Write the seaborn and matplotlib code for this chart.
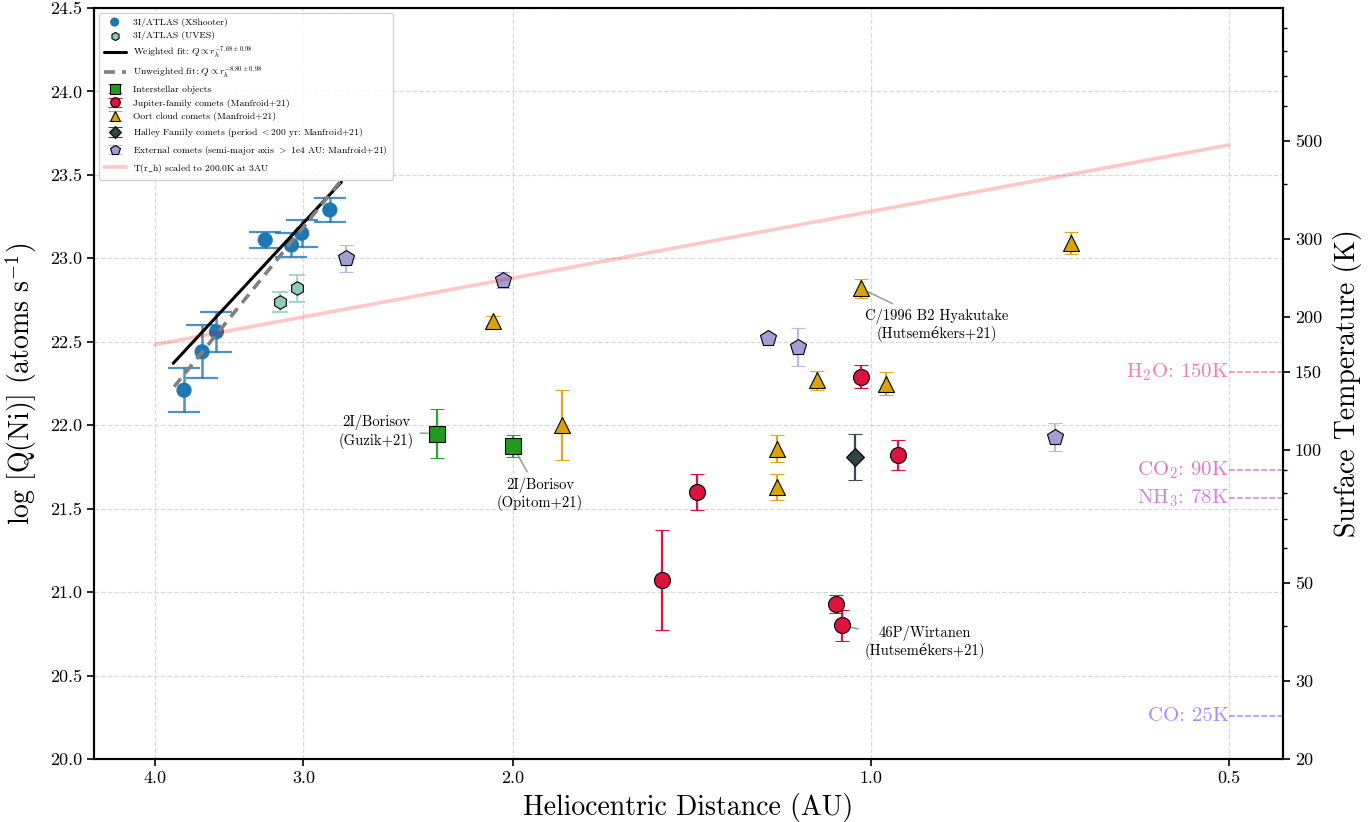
import numpy as np
import pandas as pd
import matplotlib
matplotlib.use("Agg")
import matplotlib.pyplot as plt
import seaborn as sns
from matplotlib.ticker import FixedLocator, FixedFormatter, NullFormatter, NullLocator, LogLocator
from matplotlib.lines import Line2D

# ---------------- data ----------------
# 3I/ATLAS X-Shooter
xs_r = [3.78, 3.65, 3.55, 3.23, 3.07, 3.01, 2.85]
xs_q = [22.21, 22.44, 22.56, 23.11, 23.08, 23.15, 23.29]
xs_err = [0.13, 0.16, 0.12, 0.05, 0.07, 0.08, 0.07]
# 3I/ATLAS UVES
uv_r = [3.14, 3.04]
uv_q = [22.74, 22.82]
uv_err = [0.06, 0.08]
# power-law fits (exponent, intercept of log Q at r=1 AU, r-range)
fit_w_exp, fit_w_c = -7.68, 26.876
fit_u_exp, fit_u_c = -8.80, 27.386
fit_w_range = [3.86, 2.787]
fit_u_range = [3.853, 2.796]
# Interstellar objects (2I/Borisov)
is_r = [2.318, 2.00]
is_q = [21.95, 21.876]
is_err = [0.145, 0.067]
# Jupiter-family comets
jf_r = [1.498, 1.399, 1.069, 1.058, 1.018, 0.949]
jf_q = [21.07, 21.60, 20.93, 20.80, 22.29, 21.82]
jf_err = [0.30, 0.11, 0.055, 0.09, 0.068, 0.09]
# Oort cloud comets
oc_r = [2.079, 1.818, 1.20, 1.20, 1.109, 1.019, 0.970, 0.679]
oc_q = [22.625, 22.00, 21.86, 21.63, 22.27, 22.82, 22.25, 23.09]
oc_err = [0.03, 0.21, 0.08, 0.08, 0.057, 0.058, 0.067, 0.065]
# Halley family comets
hf_r = [1.03]
hf_q = [21.81]
hf_err = [0.14]
# External comets
ex_r = [2.76, 2.04, 1.221, 1.150, 0.700]
ex_q = [23.00, 22.87, 22.52, 22.47, 21.93]
ex_err = [0.08, 0.05, 0.02, 0.115, 0.085]
# Surface temperature model
T_ref, r_ref = 200.0, 3.0
T_r = [4.0, 0.5]
# ice sublimation temperatures
ice_names = ["H$_2$O: 150K", "CO$_2$: 90K", "NH$_3$: 78K", "CO: 25K"]
ice_T = [150, 90, 78, 25]
ice_colors = ["#f282ad", "#e07ac6", "#d580e0", "#a98cff"]
# annotations
ann_text = ["C/1996 B2 Hyakutake\n(Hutsemékers+21)", "46P/Wirtanen\n(Hutsemékers+21)",
            "2I/Borisov\n(Guzik+21)", "2I/Borisov\n(Opitom+21)"]
ann_xy = [(1.019, 22.82), (1.058, 20.80), (2.318, 21.95), (2.00, 21.876)]
ann_txt = [(0.880, 22.60), (0.901, 20.70), (2.603, 21.96), (1.898, 21.585)]

x_ticks = [4.0, 3.0, 2.0, 1.0, 0.5]
x_ticklabels = ["4.0", "3.0", "2.0", "1.0", "0.5"]
T_ticks = [20, 30, 50, 100, 150, 200, 300, 500]

lab_xs = "3I/ATLAS (XShooter)"
lab_uv = "3I/ATLAS (UVES)"
lab_fw = r"Weighted fit: $Q \propto r_h^{-7.68\pm0.98}$"
lab_fu = r"Unweighted fit: $Q \propto r_h^{-8.80\pm0.98}$"
lab_is = "Interstellar objects"
lab_jf = "Jupiter-family comets (Manfroid+21)"
lab_oc = "Oort cloud comets (Manfroid+21)"
lab_hf = r"Halley Family comets (period $<$200 yr: Manfroid+21)"
lab_ex = r"External comets (semi-major axis $>$ 1e4 AU: Manfroid+21)"
lab_T = r"T(r$\_$h) scaled to 200.0K at 3AU"

# ---------------- style ----------------
sns.set_style("ticks")
plt.rcParams["font.family"] = ["cmr10", "DejaVu Serif"]
plt.rcParams["mathtext.fontset"] = "cm"
plt.rcParams["axes.formatter.use_mathtext"] = True
plt.rcParams["axes.unicode_minus"] = False
for k in ["text.color", "axes.labelcolor", "xtick.color", "ytick.color", "axes.edgecolor"]:
    plt.rcParams[k] = "black"

fig = plt.figure(figsize=(13.7, 8.22), dpi=100)
ax = fig.add_axes([94 / 1370, 1 - 759 / 822, (1283 - 94) / 1370, (759 - 8) / 822])
ax.set_xscale("log")
ax.set_xlim(4.5, 0.45)
ax.set_ylim(20.0, 24.5)

blue = "#1f77b4"
# X-Shooter
ax.errorbar(xs_r, xs_q, yerr=xs_err, fmt="none", ecolor=blue, alpha=0.8,
            elinewidth=1.8, capsize=11.5, capthick=1.6, zorder=2)
sns.scatterplot(x=xs_r, y=xs_q, ax=ax, color=blue, s=120, edgecolor="none",
                label=lab_xs, zorder=3)
# UVES
uv_col = "#8ecab8"
ax.errorbar(uv_r, uv_q, yerr=uv_err, fmt="none", ecolor="#a6d6c6",
            elinewidth=1.5, capsize=6, capthick=1.4, zorder=2)
sns.scatterplot(x=uv_r, y=uv_q, ax=ax, color=uv_col, marker="h", s=95,
                edgecolor="black", linewidth=0.8, label=lab_uv, zorder=3)

# fits
fw_r = np.array(fit_w_range)
fu_r = np.array(fit_u_range)
sns.lineplot(x=fw_r, y=fit_w_c + fit_w_exp * np.log10(fw_r), ax=ax, color="black", lw=2.2,
             label=lab_fw, zorder=4)
sns.lineplot(x=fu_r, y=fit_u_c + fit_u_exp * np.log10(fu_r), ax=ax, color="gray", lw=2.6,
             linestyle=(0, (3, 2)), label=lab_fu, zorder=4)


def ebar(r, q, e, marker, color, ecolor, label, ms=11.5):
    return ax.errorbar(r, q, yerr=e, fmt=marker, color=color, ms=ms, mec="black", mew=0.8,
                       ecolor=ecolor, elinewidth=1.6, capsize=5, capthick=1.4, label=label, zorder=3)


ebar(is_r, is_q, is_err, "s", "#1f9a1f", "#2aa82a", lab_is, ms=11.5)
ebar(jf_r, jf_q, jf_err, "o", "#dc143c", "#dc143c", lab_jf, ms=11.5)
ebar(oc_r, oc_q, oc_err, "^", "#daa30a", "#e0aa20", lab_oc, ms=12)
ebar(hf_r, hf_q, hf_err, "D", "#2f4444", "#3a4a4a", lab_hf, ms=9.5)
ebar(ex_r, ex_q, ex_err, "p", "#a0a0d6", "#b8b8e6", lab_ex, ms=12)

for t, xy, xyt in zip(ann_text, ann_xy, ann_txt):
    ax.annotate(t, xy=xy, xytext=xyt, ha="center", va="center", fontsize=10.5, color="black",
                arrowprops=dict(arrowstyle="-", color="#999999", lw=1.1, shrinkA=2, shrinkB=6))

ax.xaxis.set_major_locator(FixedLocator(x_ticks))
ax.xaxis.set_major_formatter(FixedFormatter(x_ticklabels))
ax.xaxis.set_minor_locator(NullLocator())
ax.set_yticks(np.arange(20.0, 24.51, 0.5))
ax.set_yticklabels([f"{v:.1f}" for v in np.arange(20.0, 24.51, 0.5)])
ax.grid(True, which="major", linestyle="--", color="#d9d9d9", lw=0.9)
ax.tick_params(axis="both", which="major", direction="out", length=5, width=1.2, labelsize=13)
for sp in ax.spines.values():
    sp.set_linewidth(1.5)
    sp.set_color("black")
ax.set_xlabel("Heliocentric Distance (AU)", fontsize=20, labelpad=5)
ax.set_ylabel(r"log [Q(Ni)] (atoms s$^{-1}$)", fontsize=20, labelpad=8)

# twin temperature axis
ax2 = ax.twinx()
ax2.set_yscale("log")
ax2.set_ylim(20, 1000)
Tr = np.array(T_r)
sns.lineplot(x=Tr, y=T_ref * (Tr / r_ref) ** -0.5, ax=ax2, color="red", alpha=0.22, lw=2.6,
             legend=False)
for name, T, c in zip(ice_names, ice_T, ice_colors):
    ax2.plot([0.5, 0.45], [T, T], linestyle="--", color=c, lw=1.1)
    ax2.text(0.5, T, name, ha="right", va="center", color=c, fontsize=15)
ax2.set_xlim(4.5, 0.45)
ax2.yaxis.set_major_locator(FixedLocator(T_ticks))
ax2.yaxis.set_major_formatter(FixedFormatter([str(t) for t in T_ticks]))
ax2.yaxis.set_minor_locator(LogLocator(base=10, subs=np.arange(2, 10)))
ax2.yaxis.set_minor_formatter(NullFormatter())
ax2.tick_params(axis="y", which="major", direction="out", length=5, width=1.2, labelsize=13)
ax2.tick_params(axis="y", which="minor", direction="out", length=3, width=1.0)
for sp in ax2.spines.values():
    sp.set_linewidth(1.5)
    sp.set_color("black")
ax2.set_ylabel("Surface Temperature (K)", fontsize=20, labelpad=8)

# legend
h1, l1 = ax.get_legend_handles_labels()
order = [lab_xs, lab_uv, lab_fw, lab_fu, lab_is, lab_jf, lab_oc, lab_hf, lab_ex]
hd = dict(zip(l1, h1))
handles = [hd[k] for k in order]
labels = list(order)
handles.append(Line2D([], [], color="red", alpha=0.22, lw=2.6))
labels.append(lab_T)
if ax.get_legend() is not None:
    ax.get_legend().remove()
leg = ax2.legend(handles, labels, loc="upper left", fontsize=6.9, markerscale=0.6,
                 frameon=True, fancybox=True, framealpha=0.85, edgecolor="#cccccc",
                 borderpad=0.5, labelspacing=0.5, handlelength=2.3, bbox_to_anchor=(0.0, 1.0))
for t in leg.get_texts():
    t.set_color("black")

fig.savefig("out.png", dpi=100)
